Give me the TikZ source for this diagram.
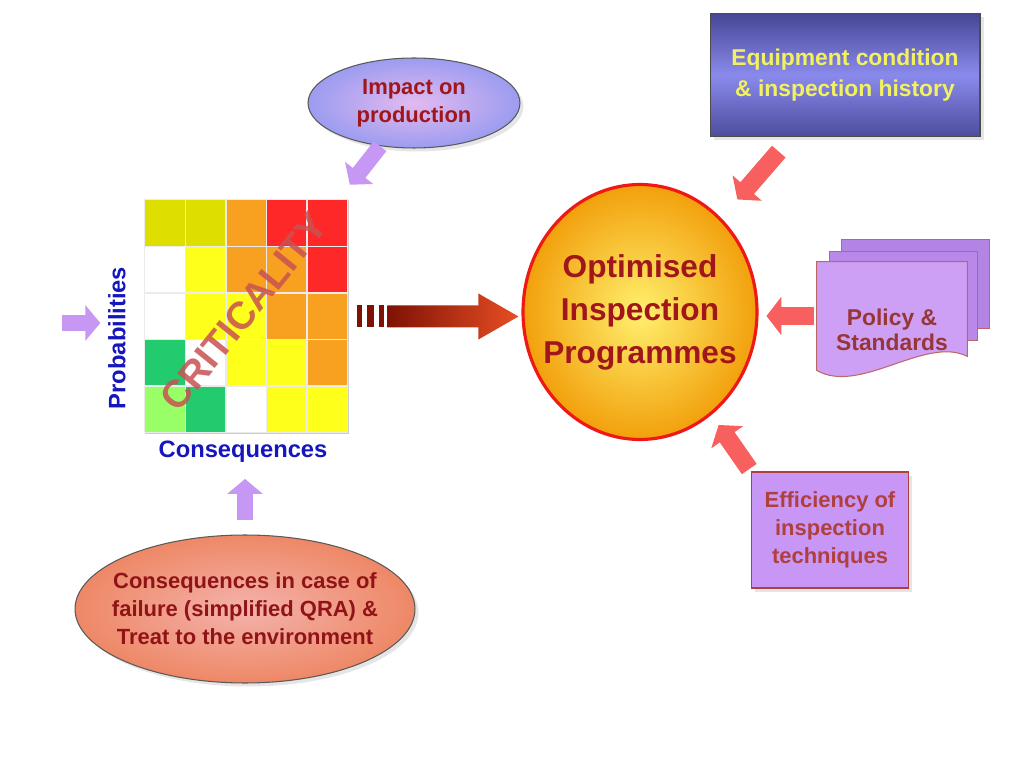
\documentclass[tikz,border=0pt]{standalone}
\usepackage{fontspec}
\setmainfont{Liberation Sans}
\definecolor{lavfill}{RGB}{156,156,240}
\definecolor{lavmid}{RGB}{226,186,240}
\definecolor{wine}{RGB}{160,22,26}
\definecolor{navyA}{RGB}{70,70,150}
\definecolor{navyB}{RGB}{138,138,236}
\definecolor{lemon}{RGB}{242,242,96}
\definecolor{hubedge}{RGB}{240,24,20}
\definecolor{hubin}{RGB}{255,240,110}
\definecolor{hubout}{RGB}{242,160,12}
\definecolor{lilac}{RGB}{200,150,244}
\definecolor{lilacdk}{RGB}{178,132,228}
\definecolor{rosered}{RGB}{176,64,64}
\definecolor{salmon}{RGB}{238,136,102}
\definecolor{salmonin}{RGB}{244,178,172}
\definecolor{pointer}{RGB}{198,152,244}
\definecolor{coral}{RGB}{248,96,96}
\definecolor{deepred}{RGB}{126,18,4}
\definecolor{flame}{RGB}{232,78,36}
\definecolor{royal}{RGB}{22,22,190}
\definecolor{critred}{RGB}{200,82,82}
\definecolor{cOlive}{RGB}{222,222,0}
\definecolor{cYellow}{RGB}{255,255,28}
\definecolor{cOrange}{RGB}{248,160,32}
\definecolor{cRed}{RGB}{255,40,40}
\definecolor{cGreen}{RGB}{34,204,110}
\definecolor{cLime}{RGB}{152,255,102}
\usetikzlibrary{arrows.meta, calc, shapes.geometric, shadows}
\tikzset{
	oval/.style={ellipse, draw=black!65, line width=0.6pt, inner sep=0pt, align=center, drop shadow={opacity=0.2, shadow xshift=2pt, shadow yshift=-2pt}},
	panel/.style={rectangle, draw=black!70, line width=0.6pt, inner sep=0pt, align=center, top color=navyA, bottom color=navyA!90!navyB, middle color=navyB, minimum width=5.4cm, minimum height=2.46cm, text=lemon, font=\bfseries\fontsize{13}{18}\selectfont, drop shadow={opacity=0.2, shadow xshift=2pt, shadow yshift=-2pt}},
	hub/.style={ellipse, draw=hubedge, line width=1.8pt, inner xsep=-8.5pt, inner ysep=0pt, align=center, inner color=hubin, outer color=hubout, minimum width=4.68cm, minimum height=5.1cm, text=wine, font=\bfseries\fontsize{18}{24.5}\selectfont},
	card/.style={rectangle, draw=rosered, line width=0.6pt, inner sep=0pt, align=center, fill=lilac, minimum width=3.14cm, minimum height=2.32cm, text=rosered, font=\bfseries\fontsize{12.5}{16}\selectfont, drop shadow={opacity=0.2, shadow xshift=2pt, shadow yshift=-2pt}},
	docfront/.style={draw=rosered!80, line width=0.6pt, fill=lilac!90!white},
	docback/.style={draw=rosered!80, line width=0.6pt, fill=lilacdk},
	matbox/.style={rectangle, draw=black!20, inner sep=0pt, minimum width=4.06cm, minimum height=4.66cm},
	cell/.style={draw=black!8, line width=0.8pt},
	critlabel/.style={text=critred, opacity=0.85, font=\bfseries\fontsize{22}{24}\selectfont},
	axislabel/.style={text=royal, font=\bfseries\fontsize{13.5}{15}\selectfont},
	lavarrow/.style={draw=pointer, line width=0.32cm, -{Triangle[width=0.7cm, length=0.3cm]}},
	redarrow/.style={draw=coral, line width=0.36cm, -{Triangle[width=0.76cm, length=0.3cm]}},
}
\begin{document}
\begin{tikzpicture}[x=0.02cm, y=-0.02cm]
	\useasboundingbox[fill=white] (0,0) rectangle (1034,776);
	% criticality matrix
	\node[matbox] (mat) at (246.5,316.5) {};
	\foreach \clr [count=\k from 0] in {cOlive,cOlive,cOrange,cRed,cRed, white,cYellow,cOrange,cOrange,cRed, white,cYellow,cYellow,cOrange,cOrange, cGreen,white,cYellow,cYellow,cOrange, cLime,cGreen,white,cYellow,cYellow}{
		\pgfmathtruncatemacro{\cx}{mod(\k,5)}
		\pgfmathtruncatemacro{\cy}{div(\k,5)}
		\filldraw[cell, fill=\clr] ($(mat.north west)+(\cx*40.6,\cy*46.6)$) rectangle ++(40.6,46.6);
	}
	\node[critlabel, rotate=51] (crit) at (244,312) {CRITICALITY};
	\node[axislabel, rotate=90] (problbl) at (117,338) {Probabilities};
	\node[axislabel] (conslbl) at (243,452) {Consequences};
	% inputs
	\node[oval, minimum width=4.24cm, minimum height=1.8cm, inner color=lavmid, outer color=lavfill, text=wine, font=\bfseries\fontsize{12.5}{16}\selectfont] (impact) at (414,103) {Impact on\\production};
	\node[oval, inner xsep=-7.4pt, minimum width=6.8cm, minimum height=2.96cm, inner color=salmonin, outer color=salmon, text=wine!90!black, font=\bfseries\fontsize{12.5}{16}\selectfont] (consoval) at (245,609) {Consequences in case of\\failure (simplified QRA) \&\\Treat to the environment};
	\node[hub] (prog) at (640,312) {Optimised\\Inspection\\Programmes};
	\node[panel] (equip) at (845,75) {Equipment condition\\\& inspection history};
	\node[card] (eff) at (830,530) {Efficiency of\\inspection\\techniques};
	% policy documents
	\node[minimum width=3cm, minimum height=2.16cm, inner sep=0pt] (policy) at (892,316) {};
	\filldraw[docback] ($(policy.north west)+(25,-22)$) rectangle ($(policy.south east)+(22,-42)$);
	\filldraw[docback, fill=lilacdk!70!lilac] ($(policy.north west)+(13,-10)$) rectangle ($(policy.south east)+(10,-30)$);
	\filldraw[docfront] (policy.north west) -- (policy.north east) -- ($(policy.south east)+(0,-14)$) .. controls ($(policy.south east)+(-42,-35)$) and ($(policy.south west)+(43,25)$) .. (policy.south west) -- cycle;
	\node[text=rosered!85!black, align=center, font=\bfseries\fontsize{13}{14.5}\selectfont] (policylbl) at (892,330) {Policy \&\\Standards};
	% arrows
	\coordinate (probin) at (62,323);
	\draw[lavarrow, shorten >=1pt] (probin) -- (probin -| problbl.north);
	\draw[lavarrow, shorten >=10.8pt] (impact) -- (mat);
	\draw[lavarrow, shorten <=8.5pt, shorten >=5.7pt] (consoval.north) -- (consoval.north |- conslbl.south);
	\draw[redarrow, shorten <=11pt, shorten >=14pt] (equip) -- (prog);
	\draw[redarrow, shorten <=1.7pt, shorten >=4.5pt] (policy.west) -- (policy.west -| prog.east);
	\draw[redarrow, shorten <=1.7pt, shorten >=7pt] (eff.north west) -- (prog);
	\coordinate (bs) at ($(mat.east)+(39,0)$);
	\coordinate (tip) at ($(mat.east -| prog.west)+(-3,0)$);
	\coordinate (hb) at ($(tip)+(-40,0)$);
	\shade[left color=deepred, right color=flame] ($(bs)+(0,-11)$) -- ($(hb)+(0,-11)$) -- ($(hb)+(0,-23)$) -- (tip) -- ($(hb)+(0,23)$) -- ($(hb)+(0,11)$) -- ($(bs)+(0,11)$) -- cycle;
	\foreach \a/\b in {9/14, 19/26, 31/36}
		\fill[deepred] ($(mat.east)+(\a,-11)$) rectangle ($(mat.east)+(\b,11)$);
\end{tikzpicture}
\end{document}
